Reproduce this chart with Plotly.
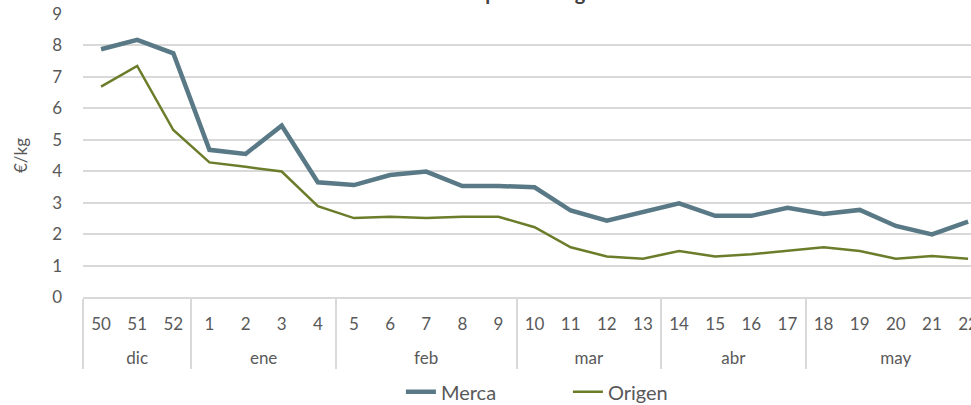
import plotly.graph_objects as go

month_names = ["dic"] * 3 + ["ene"] * 4 + ["feb"] * 5 + ["mar"] * 4 + ["abr"] * 4 + ["may"] * 5
weeks = ["50", "51", "52", "1", "2", "3", "4", "5", "6", "7", "8", "9", "10", "11", "12", "13",
         "14", "15", "16", "17", "18", "19", "20", "21", "22"]
merca = [7.88, 8.18, 7.75, 4.68, 4.55, 5.45, 3.65, 3.56, 3.88, 3.99, 3.53, 3.53, 3.49, 2.75, 2.43,
         2.70, 2.98, 2.58, 2.58, 2.84, 2.64, 2.77, 2.26, 1.99, 2.40]
origen = [6.69, 7.35, 5.31, 4.28, 4.14, 3.99, 2.89, 2.51, 2.55, 2.51, 2.55, 2.55, 2.22, 1.58, 1.29,
          1.22, 1.46, 1.29, 1.36, 1.46, 1.58, 1.46, 1.22, 1.30, 1.22]
title_text = "Evolución del precio: origen vs Merca"

# second-level labels pushed one line down (Excel-style spacing)
months = ["<br>" + m for m in month_names]

FONT = "Lato"
GRAY = "#595959"
GRID = "#d9d9d9"

fig = go.Figure()
fig.add_trace(go.Scatter(x=[months, weeks], y=merca, name="Merca", mode="lines",
                         line=dict(color="#587985", width=4.5)))
fig.add_trace(go.Scatter(x=[months, weeks], y=origen, name="Origen", mode="lines",
                         line=dict(color="#6b7d2a", width=2.5)))

fig.update_layout(
    width=971, height=405, autosize=False,
    margin=dict(l=83, r=0, t=14, b=108, autoexpand=False),
    paper_bgcolor="white", plot_bgcolor="white",
    font=dict(family=FONT, size=17, color=GRAY),
    showlegend=True,
    legend=dict(orientation="h", x=0.358, xanchor="left", y=-0.335, yanchor="middle",
                font=dict(family=FONT, size=20, color=GRAY), entrywidth=122,
                traceorder="normal"),
    annotations=[dict(text="<b>" + title_text + "</b>", xref="paper", yref="paper",
                      x=0.5, y=1.0, yshift=8, xanchor="center", yanchor="bottom",
                      showarrow=False, font=dict(family=FONT, size=20, color="#404040"))],
)
fig.update_xaxes(
    type="multicategory", range=[-0.5, 24.08], automargin=False,
    showgrid=False, ticks="", showline=True, linecolor=GRID, linewidth=1.5,
    showdividers=True, dividercolor=GRID, dividerwidth=1.5,
    ticklabelstandoff=11,
    tickfont=dict(family=FONT, size=17, color=GRAY),
)
fig.update_yaxes(
    range=[0, 9], dtick=1, showgrid=True, gridcolor=GRID, gridwidth=1.5, automargin=False,
    zeroline=False, showline=False, ticks="", ticklabelstandoff=20,
    tickfont=dict(family=FONT, size=17, color=GRAY),
    title=dict(text="€/kg", font=dict(family=FONT, size=17, color=GRAY), standoff=20),
)

fig.write_html(
    "out.html",
    config={"displayModeBar": False},
    post_script="document.body.style.margin='0';document.body.style.overflow='hidden';",
)
